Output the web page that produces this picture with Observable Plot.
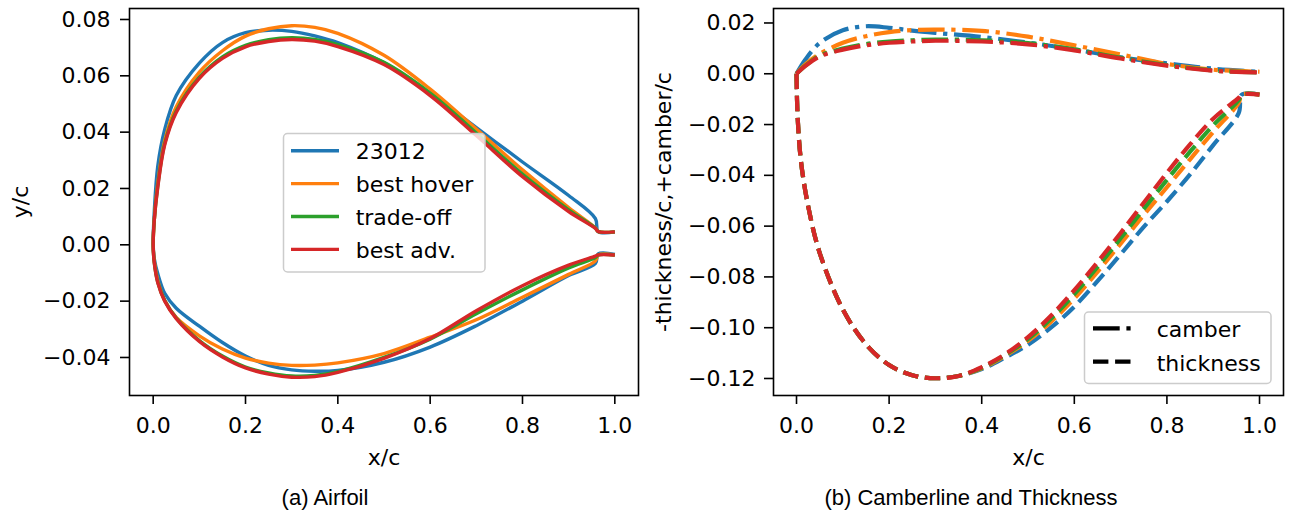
<!DOCTYPE html>
<html><head><meta charset="utf-8">
<script src="https://cdn.jsdelivr.net/npm/d3@7"></script>
<script src="https://cdn.jsdelivr.net/npm/@observablehq/plot@0.6"></script>
<style>
body{margin:0;background:#fff}
#wrap{position:relative;width:1292px;height:517px;overflow:hidden;font-family:"DejaVu Sans",sans-serif}
.panel{position:absolute;top:0}
.cap{position:absolute;top:485px;font-family:"Liberation Sans",Arial,sans-serif;font-size:22px;line-height:26px;text-align:center;color:#000}
#ov{position:absolute;left:0;top:0;pointer-events:none}
</style></head>
<body>
<div id="wrap">
  <div id="left" class="panel" style="left:0px"></div>
  <div id="right" class="panel" style="left:650px"></div>
  <div class="cap" style="left:0;width:650px">(a) Airfoil</div>
  <div class="cap" style="left:650px;width:642px">(b) Camberline and Thickness</div>
</div>
<script>
// ---------------- data ----------------
const series = ["23012", "best hover", "trade-off", "best adv."];
const colors = ["#1f77b4", "#ff7f0e", "#2ca02c", "#d62728"];

// airfoil surfaces (left panel)
const xSurf = [0, 0.0025, 0.01, 0.025, 0.05, 0.1, 0.15, 0.2, 0.25, 0.3, 0.35, 0.4, 0.5, 0.6, 0.7, 0.8, 0.9, 0.958, 0.964, 1.0];
const upper23012 = [0, 0.012, 0.028, 0.041, 0.053, 0.0645, 0.0718, 0.0753, 0.0762, 0.0758, 0.0742, 0.0718, 0.0646, 0.0537, 0.0416, 0.0294, 0.0175, 0.0093, 0.0047, 0.0046];
const upperHover = [0, 0.009, 0.022, 0.037, 0.049, 0.0613, 0.0689, 0.0741, 0.0767, 0.0778, 0.0772, 0.0751, 0.0673, 0.0553, 0.0411, 0.0266, 0.0132, 0.0060, 0.0047, 0.0046];
const upperTrade = [0, 0.009, 0.021, 0.036, 0.0475, 0.0595, 0.0667, 0.0708, 0.0728, 0.0735, 0.0729, 0.0711, 0.0648, 0.0539, 0.0397, 0.0251, 0.0124, 0.0059, 0.0047, 0.0046];
const upperAdv   = [0, 0.009, 0.0205, 0.0355, 0.047, 0.0591, 0.0662, 0.0703, 0.0722, 0.0729, 0.0723, 0.0704, 0.0640, 0.0530, 0.0388, 0.0242, 0.0118, 0.0058, 0.0047, 0.0046];
const lower23012 = [0, -0.005, -0.0103, -0.0172, -0.0225, -0.0289, -0.0347, -0.0395, -0.0428, -0.0444, -0.0449, -0.0446, -0.0417, -0.0363, -0.0287, -0.0200, -0.0109, -0.0066, -0.0032, -0.0034];
const lowerHover = [0, -0.006, -0.0127, -0.0198, -0.0258, -0.0323, -0.0370, -0.0402, -0.0420, -0.0428, -0.0427, -0.0419, -0.0386, -0.0328, -0.0266, -0.0186, -0.0105, -0.0057, -0.0036, -0.0036];
const lowerTrade = [0, -0.0065, -0.0133, -0.0198, -0.026, -0.034, -0.0395, -0.0434, -0.0455, -0.0466, -0.0464, -0.0450, -0.0400, -0.0335, -0.0245, -0.0160, -0.0082, -0.0045, -0.0036, -0.0036];
const lowerAdv   = [0, -0.0065, -0.0135, -0.020, -0.0262, -0.0343, -0.0398, -0.0437, -0.0459, -0.0470, -0.0468, -0.0453, -0.0403, -0.0333, -0.0234, -0.0145, -0.0072, -0.0040, -0.0036, -0.0036];

// camber lines (right panel)
const xCamber = [0, 0.02, 0.05, 0.1, 0.15, 0.2, 0.25, 0.3, 0.4, 0.5, 0.6, 0.7, 0.8, 0.9, 1.0];
const camber23012 = [0, 0.0058, 0.0121, 0.0171, 0.0187, 0.0181, 0.0170, 0.0161, 0.0145, 0.0123, 0.0096, 0.0065, 0.0041, 0.0020, 0.0008];
const camberHover = [0, 0.0038, 0.0078, 0.0122, 0.0148, 0.0164, 0.0172, 0.0174, 0.0169, 0.0146, 0.0112, 0.0076, 0.0039, 0.0016, 0.0008];
const camberTrade = [0, 0.0033, 0.0071, 0.0099, 0.0117, 0.0127, 0.0132, 0.0135, 0.0132, 0.0121, 0.0096, 0.0063, 0.0034, 0.0013, 0.0005];
const camberAdv   = [0, 0.0032, 0.0068, 0.0095, 0.0112, 0.0122, 0.0127, 0.0130, 0.0127, 0.0116, 0.0092, 0.0060, 0.0032, 0.0012, 0.0005];

// negative thickness (right panel)
const xThick = [0, 0.0025, 0.01, 0.025, 0.05, 0.1, 0.15, 0.2, 0.25, 0.3, 0.35, 0.4, 0.45, 0.5, 0.55, 0.6, 0.65, 0.7, 0.75, 0.8, 0.85, 0.9, 0.955, 0.962, 1.0];
const thick23012 = [0, -0.0174, -0.035, -0.052, -0.0705, -0.0928, -0.1065, -0.1147, -0.1187, -0.1199, -0.1190, -0.1163, -0.1118, -0.1067, -0.0999, -0.0917, -0.0817, -0.0711, -0.0603, -0.0503, -0.0396, -0.0281, -0.0155, -0.0082, -0.0082];
const thickHover = [0, -0.0174, -0.035, -0.052, -0.0705, -0.0928, -0.1065, -0.1147, -0.1187, -0.1199, -0.1190, -0.1160, -0.1111, -0.1052, -0.0976, -0.0885, -0.0780, -0.0669, -0.0556, -0.0447, -0.0337, -0.0229, -0.0115, -0.0082, -0.0082];
const thickTrade = [0, -0.0174, -0.035, -0.052, -0.0705, -0.0928, -0.1065, -0.1147, -0.1187, -0.1199, -0.1190, -0.1158, -0.1108, -0.1045, -0.0964, -0.0868, -0.0761, -0.0648, -0.0532, -0.0418, -0.0307, -0.0203, -0.0104, -0.0082, -0.0082];
const thickAdv   = [0, -0.0174, -0.035, -0.052, -0.0705, -0.0928, -0.1065, -0.1147, -0.1187, -0.1199, -0.1190, -0.1155, -0.1105, -0.1037, -0.0952, -0.0852, -0.0742, -0.0627, -0.0508, -0.0390, -0.0278, -0.0177, -0.0095, -0.0082, -0.0082];

// ticks
const xTicks = [0, 0.2, 0.4, 0.6, 0.8, 1.0];
const yTicksLeft = [-0.04, -0.02, 0, 0.02, 0.04, 0.06, 0.08];
const yTicksRight = [-0.12, -0.10, -0.08, -0.06, -0.04, -0.02, 0, 0.02];
const styleNames = ["camber", "thickness"];
const styleDash = ["26.7,6.7,4.2,6.7", "15.4,6.7"];

// ---------------- build tables ----------------
const uppers = [upper23012, upperHover, upperTrade, upperAdv];
const lowers = [lower23012, lowerHover, lowerTrade, lowerAdv];
const cambers = [camber23012, camberHover, camberTrade, camberAdv];
const thicks = [thick23012, thickHover, thickTrade, thickAdv];

const airfoil = [];
series.forEach((s, i) => {
  for (let k = xSurf.length - 1; k >= 0; k--) airfoil.push({x: xSurf[k], y: uppers[i][k], name: s});
  for (let k = 1; k < xSurf.length; k++) airfoil.push({x: xSurf[k], y: lowers[i][k], name: s});
});
const camberRows = series.map((s, i) => xCamber.map((x, k) => ({x, y: cambers[i][k], name: s})));
const thickRows = series.map((s, i) => xThick.map((x, k) => ({x, y: thicks[i][k], name: s})));

const fmt = n => d => d.toFixed(n).replace("-", "\u2212");
const FS = 22;
const common = {
  height: 480, marginTop: 8, marginBottom: 85,
  style: {fontFamily: "DejaVu Sans", fontSize: FS + "px", color: "black", background: "white", overflow: "visible"},
  color: {domain: series, range: colors}
};

// ---------------- left panel ----------------
const left = Plot.plot({
  ...common,
  width: 650, marginLeft: 129, marginRight: 12,
  x: {domain: [-0.0513, 1.0513]},
  y: {domain: [-0.0535, 0.0839]},
  marks: [
    Plot.line(airfoil, {x: "x", y: "y", z: "name", stroke: "name", strokeWidth: 3.4,
      curve: "catmull-rom", strokeLinecap: "butt", strokeLinejoin: "round"}),
    Plot.frame({stroke: "black", strokeWidth: 1.6}),
    Plot.axisX({ticks: xTicks, tickFormat: fmt(1), tickSize: 9, tickPadding: 13, fontSize: FS, strokeWidth: 1.6, label: null}),
    Plot.axisY({ticks: yTicksLeft, tickFormat: fmt(2), tickSize: 9, tickPadding: 10, fontSize: FS, strokeWidth: 1.6, label: null}),
    Plot.text(["x/c"], {text: d => d, frameAnchor: "bottom", dy: 69, fontSize: FS}),
    Plot.text(["y/c"], {text: d => d, frameAnchor: "left", textAnchor: "middle", dx: -109, rotate: -90, fontSize: FS})
  ]
});
document.getElementById("left").appendChild(left);

// ---------------- right panel ----------------
const rightMarks = [];
series.forEach((s, i) => {
  rightMarks.push(Plot.line(camberRows[i], {x: "x", y: "y", stroke: "name", strokeWidth: 4.2,
    strokeDasharray: styleDash[0], curve: "catmull-rom", strokeLinecap: "butt", strokeLinejoin: "round"}));
  rightMarks.push(Plot.line(thickRows[i], {x: "x", y: "y", stroke: "name", strokeWidth: 4.2,
    strokeDasharray: styleDash[1], curve: "catmull-rom", strokeLinecap: "butt", strokeLinejoin: "round"}));
});
const right = Plot.plot({
  ...common,
  width: 642, marginLeft: 123, marginRight: 9,
  x: {domain: [-0.0497, 1.0518]},
  y: {domain: [-0.1267, 0.0257]},
  marks: [
    ...rightMarks,
    Plot.frame({stroke: "black", strokeWidth: 1.6}),
    Plot.axisX({ticks: xTicks, tickFormat: fmt(1), tickSize: 9, tickPadding: 13, fontSize: FS, strokeWidth: 1.6, label: null}),
    Plot.axisY({ticks: yTicksRight, tickFormat: fmt(2), tickSize: 9, tickPadding: 9, fontSize: FS, strokeWidth: 1.6, label: null}),
    Plot.text(["x/c"], {text: d => d, frameAnchor: "bottom", dy: 69, fontSize: FS}),
    Plot.text(["-thickness/c,+camber/c"], {text: d => d, frameAnchor: "left", textAnchor: "middle", dx: -110, rotate: -90, fontSize: FS})
  ]
});
document.getElementById("right").appendChild(right);

// ---------------- legends (overlay) ----------------
const ov = d3.select("#wrap").append("svg").attr("id", "ov").attr("width", 1292).attr("height", 517)
  .style("font-family", "DejaVu Sans").style("font-size", FS + "px");

// left legend
const lg = ov.append("g");
lg.append("rect").attr("x", 283.5).attr("y", 133.5).attr("width", 201.5).attr("height", 138.5)
  .attr("rx", 4).attr("fill", "white").attr("fill-opacity", 0.8).attr("stroke", "#cccccc").attr("stroke-width", 1.5);
series.forEach((s, i) => {
  const yy = 150.7 + i * 32.9;
  lg.append("line").attr("x1", 291).attr("x2", 339).attr("y1", yy).attr("y2", yy)
    .attr("stroke", colors[i]).attr("stroke-width", 3.4);
  lg.append("text").attr("x", 355.7).attr("y", yy + 8.5).text(s);
});

// right legend
const rg = ov.append("g");
rg.append("rect").attr("x", 1084.5).attr("y", 312).attr("width", 186.5).attr("height", 71.5)
  .attr("rx", 4).attr("fill", "white").attr("fill-opacity", 0.8).attr("stroke", "#cccccc").attr("stroke-width", 1.5);
styleNames.forEach((s, i) => {
  const yy = 328.3 + i * 33.4;
  rg.append("line").attr("x1", 1093).attr("x2", 1137).attr("y1", yy).attr("y2", yy)
    .attr("stroke", "black").attr("stroke-width", 4.2).attr("stroke-dasharray", styleDash[i]);
  rg.append("text").attr("x", 1156.7).attr("y", yy + 9).text(s);
});
</script>
</body></html>
